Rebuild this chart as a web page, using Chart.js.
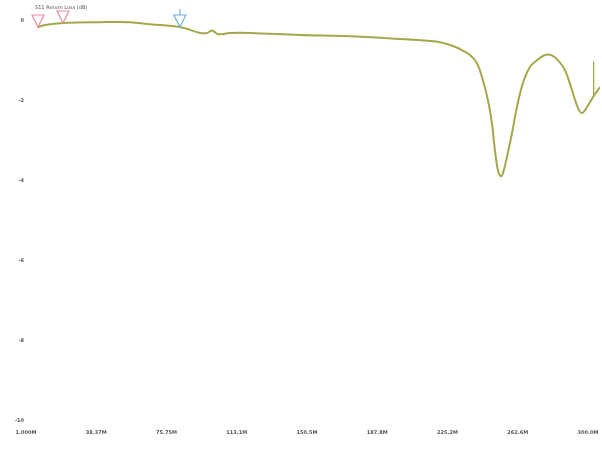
<!DOCTYPE html>
<html>
<head>
<meta charset="utf-8">
<script src="https://cdn.jsdelivr.net/npm/chart.js@4/dist/chart.umd.min.js"></script>
<style>
html,body{margin:0;padding:0;background:#fff;}
#wrap{width:602px;height:452px;}
</style>
</head>
<body>
<div id="wrap"><canvas id="c" width="602" height="452"></canvas></div>
<script>
const chartTitle = "S11 Return Loss (dB)";
const freqMHz = [1, 4.7, 14.3, 34, 50, 60.6, 76.5, 87.2, 90.9, 93.6, 96.8, 103.1, 113.8, 140.4, 167, 193.6, 209.5, 214.9, 220.2, 225.5, 230.8, 234.5, 237.7, 240.4, 242.5, 244.1, 245.7, 247.3, 248.4, 250.5, 253.2, 255.8, 259, 262.7, 266.5, 270.7, 274.4, 277.6, 281.4, 285.1, 288.3, 290.4, 293.1, 296.3, 300];
const s11dB = [-0.15, -0.10, -0.05, -0.03, -0.03, -0.08, -0.15, -0.30, -0.30, -0.24, -0.33, -0.30, -0.30, -0.35, -0.38, -0.45, -0.50, -0.53, -0.60, -0.70, -0.85, -1.05, -1.48, -1.98, -2.55, -3.23, -3.73, -3.88, -3.80, -3.40, -2.80, -2.15, -1.55, -1.15, -0.98, -0.85, -0.86, -0.98, -1.23, -1.73, -2.18, -2.30, -2.15, -1.90, -1.65];
const strayFreqMHz = [296.6, 296.6];
const strayDB = [-1.02, -1.9];
const xTickValues = [1, 38.375, 75.75, 113.125, 150.5, 187.875, 225.25, 262.625, 300];
const xTickLabels = ["1.000M", "38.37M", "75.75M", "113.1M", "150.5M", "187.8M", "225.2M", "262.6M", "300.0M"];
const yTickValues = [0, -2, -4, -6, -8, -10];
const yTickLabels = ["0", "-2", "-4", "-6", "-8", "-10"];
const markerFreqs = [1, 14.3, 76.5];
const markerValues = [-0.15, -0.05, -0.15];
const markerColors = ["#e88aa8", "#e88aa8", "#6fb0d8"];

const markerPlugin = {
  id: 'markers',
  afterDatasetsDraw(chart) {
    const {ctx, scales: {x, y}} = chart;
    ctx.save();
    ctx.lineWidth = 1.2;
    markerFreqs.forEach((f, i) => {
      const px = x.getPixelForValue(f);
      const py = y.getPixelForValue(markerValues[i]);
      ctx.strokeStyle = markerColors[i];
      ctx.beginPath();
      ctx.moveTo(px, py);
      ctx.lineTo(px - 6, py - 12);
      ctx.lineTo(px + 6, py - 12);
      ctx.closePath();
      ctx.stroke();
      if (i === 2) {
        ctx.beginPath();
        ctx.moveTo(px, py - 12);
        ctx.lineTo(px, py - 18);
        ctx.stroke();
      }
    });
    ctx.fillStyle = '#555';
    ctx.font = '5px "DejaVu Sans", sans-serif';
    ctx.textBaseline = 'middle';
    ctx.fillText(chartTitle, 35, 8);
    ctx.restore();
  }
};

new Chart(document.getElementById('c'), {
  type: 'line',
  data: {
    datasets: [{
      data: freqMHz.map((f, i) => ({x: f, y: s11dB[i]})),
      borderColor: '#a3a84a',
      borderWidth: 2,
      pointRadius: 0,
      tension: 0.35,
      fill: false
    }, {
      data: strayFreqMHz.map((f, i) => ({x: f, y: strayDB[i]})),
      borderColor: '#a3a84a',
      borderWidth: 1,
      pointRadius: 0,
      fill: false
    }]
  },
  options: {
    responsive: false,
    animation: false,
    layout: {padding: {top: 21, right: 2, left: 0, bottom: 0}},
    plugins: {legend: {display: false}, tooltip: {enabled: false}},
    scales: {
      x: {
        type: 'linear',
        min: 1, max: 300,
        grid: {display: false, drawTicks: false},
        border: {display: false},
        afterBuildTicks(axis) { axis.ticks = xTickValues.map(v => ({value: v})); },
        afterFit(axis) { axis.height = 31; axis.paddingLeft = 0; axis.paddingRight = 0; },
        ticks: {
          autoSkip: false,
          maxRotation: 0,
          padding: 9,
          labelOffset: -12,
          color: '#555',
          font: {size: 5, family: '"DejaVu Sans", sans-serif', weight: 'bold'},
          callback(v) { const i = xTickValues.indexOf(v); return i >= 0 ? xTickLabels[i] : ''; }
        }
      },
      y: {
        type: 'linear',
        min: -10, max: 0,
        grid: {display: false, drawTicks: false},
        border: {display: false},
        afterBuildTicks(axis) { axis.ticks = yTickValues.map(v => ({value: v})); },
        afterFit(axis) { axis.width = 38; axis.paddingTop = 0; axis.paddingBottom = 0; },
        ticks: {
          autoSkip: false,
          padding: 14,
          color: '#555',
          font: {size: 5, family: '"DejaVu Sans", sans-serif', weight: 'bold'},
          callback(v) { const i = yTickValues.indexOf(v); return i >= 0 ? yTickLabels[i] : ''; }
        }
      }
    }
  },
  plugins: [markerPlugin]
});
</script>
</body>
</html>
